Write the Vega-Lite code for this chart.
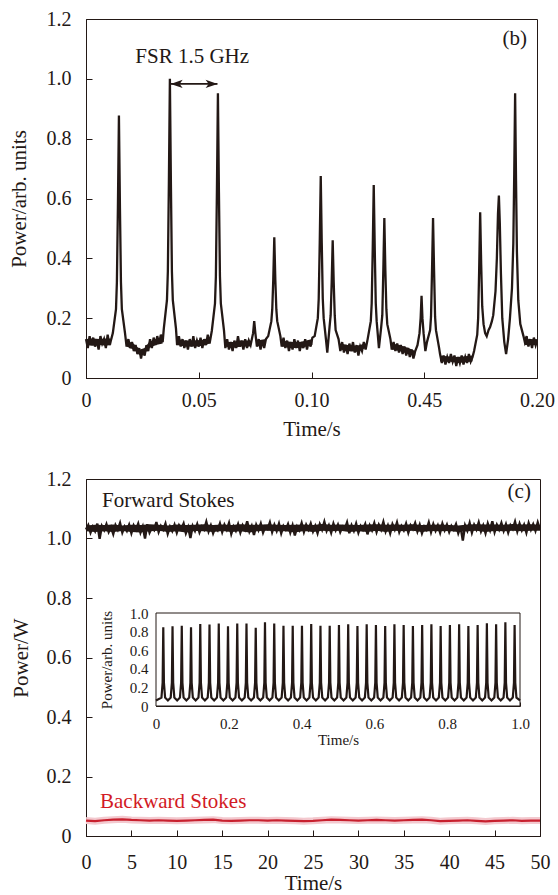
{
  "$schema": "https://vega.github.io/schema/vega-lite/v6.json",
  "padding": {"left": 7, "top": 8, "right": 0, "bottom": 0},
  "spacing": 28,
  "config": {
    "font": "Liberation Serif",
    "view": {"stroke": "#231815", "strokeWidth": 1},
    "axis": {
      "labelFont": "Liberation Serif", "titleFont": "Liberation Serif",
      "labelFontSize": 20, "titleFontSize": 21, "titleFontWeight": "normal",
      "labelColor": "#231815", "titleColor": "#231815",
      "domainColor": "#231815", "tickColor": "#231815",
      "tickSize": -6, "grid": false, "titlePadding": 14, "labelFlush": false, "labelOverlap": false
    },
    "axisX": {"labelPadding": 18},
    "axisY": {"labelPadding": 21},
    "text": {"font": "Liberation Serif", "color": "#231815", "fontSize": 21}
  },
  "vconcat": [
    {
      "width": 451, "height": 359,
      "layer": [
        {
          "data": {"values": [
{"x":0,"y":0.13},{"x":0.0008,"y":0.10},{"x":0.0016,"y":0.14},{"x":0.0024,"y":0.11},{"x":0.0032,"y":0.135},{"x":0.004,"y":0.105},{"x":0.0048,"y":0.125},{"x":0.0056,"y":0.095},{"x":0.0064,"y":0.14},{"x":0.0072,"y":0.115},{"x":0.008,"y":0.13},{"x":0.0088,"y":0.10},{"x":0.0096,"y":0.145},{"x":0.0104,"y":0.11},{"x":0.0112,"y":0.13},
{"x":0.0119,"y":0.15},{"x":0.0133,"y":0.23},{"x":0.0137,"y":0.32},{"x":0.01415,"y":0.57},{"x":0.0146,"y":0.877},{"x":0.01505,"y":0.57},{"x":0.0155,"y":0.32},{"x":0.0159,"y":0.23},{"x":0.0173,"y":0.15},
{"x":0.018,"y":0.105},{"x":0.0188,"y":0.13},{"x":0.0196,"y":0.10},{"x":0.0204,"y":0.12},{"x":0.0212,"y":0.09},{"x":0.022,"y":0.11},{"x":0.0228,"y":0.08},{"x":0.0236,"y":0.10},{"x":0.0244,"y":0.065},{"x":0.0252,"y":0.095},{"x":0.026,"y":0.075},{"x":0.0268,"y":0.11},{"x":0.0276,"y":0.09},{"x":0.0284,"y":0.13},{"x":0.0292,"y":0.10},{"x":0.03,"y":0.135},{"x":0.0308,"y":0.11},{"x":0.0316,"y":0.14},{"x":0.0324,"y":0.115},{"x":0.0332,"y":0.145},{"x":0.034,"y":0.12},
{"x":0.0345,"y":0.165},{"x":0.0359,"y":0.26},{"x":0.0363,"y":0.356},{"x":0.03675,"y":0.65},{"x":0.0372,"y":1.0},{"x":0.03765,"y":0.65},{"x":0.0381,"y":0.356},{"x":0.0385,"y":0.26},{"x":0.0399,"y":0.165},
{"x":0.0404,"y":0.11},{"x":0.0412,"y":0.14},{"x":0.042,"y":0.105},{"x":0.0428,"y":0.13},{"x":0.0436,"y":0.10},{"x":0.0444,"y":0.125},{"x":0.0452,"y":0.095},{"x":0.046,"y":0.13},{"x":0.0468,"y":0.105},{"x":0.0476,"y":0.14},{"x":0.0484,"y":0.10},{"x":0.0492,"y":0.125},{"x":0.05,"y":0.105},{"x":0.0508,"y":0.135},{"x":0.0516,"y":0.10},{"x":0.0524,"y":0.13},{"x":0.0532,"y":0.11},{"x":0.054,"y":0.145},{"x":0.0548,"y":0.115},
{"x":0.0558,"y":0.158},{"x":0.0572,"y":0.249},{"x":0.0576,"y":0.34},{"x":0.05805,"y":0.62},{"x":0.0585,"y":0.952},{"x":0.05895,"y":0.62},{"x":0.0594,"y":0.34},{"x":0.0598,"y":0.249},{"x":0.0612,"y":0.158},
{"x":0.0618,"y":0.10},{"x":0.0626,"y":0.13},{"x":0.0634,"y":0.095},{"x":0.0642,"y":0.12},{"x":0.065,"y":0.09},{"x":0.0658,"y":0.125},{"x":0.0666,"y":0.10},{"x":0.0674,"y":0.14},{"x":0.0682,"y":0.105},{"x":0.069,"y":0.125},{"x":0.0698,"y":0.095},{"x":0.0706,"y":0.13},{"x":0.0714,"y":0.10},{"x":0.0722,"y":0.125},{"x":0.073,"y":0.11},
{"x":0.0741,"y":0.15},{"x":0.0746,"y":0.19},{"x":0.0751,"y":0.15},
{"x":0.0758,"y":0.105},{"x":0.0766,"y":0.13},{"x":0.0774,"y":0.095},{"x":0.0782,"y":0.125},{"x":0.079,"y":0.10},{"x":0.0798,"y":0.13},
{"x":0.0808,"y":0.14},{"x":0.0822,"y":0.19},{"x":0.0826,"y":0.23},{"x":0.08305,"y":0.33},{"x":0.0835,"y":0.47},{"x":0.08395,"y":0.33},{"x":0.0844,"y":0.23},{"x":0.0848,"y":0.19},{"x":0.0862,"y":0.14},
{"x":0.0868,"y":0.105},{"x":0.0876,"y":0.135},{"x":0.0884,"y":0.10},{"x":0.0892,"y":0.125},{"x":0.09,"y":0.09},{"x":0.0908,"y":0.12},{"x":0.0916,"y":0.095},{"x":0.0924,"y":0.13},{"x":0.0932,"y":0.10},{"x":0.094,"y":0.125},{"x":0.0948,"y":0.09},{"x":0.0956,"y":0.12},{"x":0.0964,"y":0.10},{"x":0.0972,"y":0.13},{"x":0.098,"y":0.095},{"x":0.0988,"y":0.125},{"x":0.0996,"y":0.105},{"x":0.1004,"y":0.135},
{"x":0.1014,"y":0.14},{"x":0.1028,"y":0.20},{"x":0.1032,"y":0.265},{"x":0.10365,"y":0.45},{"x":0.1041,"y":0.675},{"x":0.10455,"y":0.45},{"x":0.105,"y":0.265},{"x":0.1054,"y":0.20},{"x":0.1064,"y":0.13},{"x":0.107,"y":0.085},
{"x":0.108,"y":0.17},{"x":0.1085,"y":0.21},{"x":0.10895,"y":0.32},{"x":0.1094,"y":0.46},{"x":0.10985,"y":0.32},{"x":0.1103,"y":0.21},{"x":0.1107,"y":0.16},{"x":0.112,"y":0.13},
{"x":0.1128,"y":0.09},{"x":0.1136,"y":0.12},{"x":0.1144,"y":0.085},{"x":0.1152,"y":0.11},{"x":0.116,"y":0.08},{"x":0.1168,"y":0.115},{"x":0.1176,"y":0.09},{"x":0.1184,"y":0.12},{"x":0.1192,"y":0.085},{"x":0.12,"y":0.11},{"x":0.1208,"y":0.075},{"x":0.1216,"y":0.105},{"x":0.1224,"y":0.09},{"x":0.1232,"y":0.12},{"x":0.124,"y":0.095},
{"x":0.1249,"y":0.13},{"x":0.1263,"y":0.19},{"x":0.1267,"y":0.25},{"x":0.12715,"y":0.43},{"x":0.1276,"y":0.645},{"x":0.12805,"y":0.43},{"x":0.1285,"y":0.25},{"x":0.1289,"y":0.19},{"x":0.1299,"y":0.10},
{"x":0.1309,"y":0.17},{"x":0.1314,"y":0.21},{"x":0.13185,"y":0.36},{"x":0.1323,"y":0.535},{"x":0.13275,"y":0.36},{"x":0.1332,"y":0.23},{"x":0.1336,"y":0.18},{"x":0.135,"y":0.13},
{"x":0.1356,"y":0.095},{"x":0.1364,"y":0.12},{"x":0.1372,"y":0.09},{"x":0.138,"y":0.115},{"x":0.1388,"y":0.085},{"x":0.1396,"y":0.11},{"x":0.1404,"y":0.08},{"x":0.1412,"y":0.105},{"x":0.142,"y":0.075},{"x":0.1428,"y":0.10},{"x":0.1436,"y":0.07},{"x":0.1444,"y":0.095},{"x":0.1452,"y":0.065},{"x":0.146,"y":0.09},
{"x":0.147,"y":0.11},{"x":0.1479,"y":0.15},{"x":0.1484,"y":0.20},{"x":0.1488,"y":0.275},{"x":0.1492,"y":0.20},{"x":0.1497,"y":0.15},{"x":0.1505,"y":0.09},
{"x":0.1512,"y":0.12},{"x":0.1526,"y":0.16},{"x":0.153,"y":0.205},{"x":0.15345,"y":0.36},{"x":0.1539,"y":0.535},{"x":0.15435,"y":0.36},{"x":0.1548,"y":0.205},{"x":0.1552,"y":0.16},{"x":0.1566,"y":0.10},
{"x":0.157,"y":0.08},{"x":0.1578,"y":0.05},{"x":0.1586,"y":0.075},{"x":0.1594,"y":0.045},{"x":0.1602,"y":0.07},{"x":0.161,"y":0.05},{"x":0.1618,"y":0.08},{"x":0.1626,"y":0.055},{"x":0.1634,"y":0.075},{"x":0.1642,"y":0.04},{"x":0.165,"y":0.07},{"x":0.1658,"y":0.05},{"x":0.1666,"y":0.075},{"x":0.1674,"y":0.045},{"x":0.1682,"y":0.07},{"x":0.169,"y":0.05},{"x":0.1698,"y":0.08},{"x":0.1706,"y":0.055},{"x":0.1714,"y":0.07},
{"x":0.1721,"y":0.09},{"x":0.1735,"y":0.145},{"x":0.1739,"y":0.20},{"x":0.17435,"y":0.36},{"x":0.1748,"y":0.554},{"x":0.17525,"y":0.38},{"x":0.1757,"y":0.24},{"x":0.1763,"y":0.18},{"x":0.177,"y":0.15},{"x":0.1777,"y":0.14},{"x":0.1785,"y":0.16},{"x":0.1792,"y":0.17},{"x":0.18,"y":0.19},{"x":0.1806,"y":0.21},{"x":0.1816,"y":0.29},{"x":0.1822,"y":0.40},{"x":0.1827,"y":0.55},{"x":0.1831,"y":0.61},{"x":0.1835,"y":0.52},{"x":0.184,"y":0.35},{"x":0.1846,"y":0.20},{"x":0.1855,"y":0.12},{"x":0.1863,"y":0.08},{"x":0.1872,"y":0.13},{"x":0.188,"y":0.20},{"x":0.1889,"y":0.30},{"x":0.1895,"y":0.45},{"x":0.1899,"y":0.68},{"x":0.1903,"y":0.952},{"x":0.1907,"y":0.66},{"x":0.1911,"y":0.42},{"x":0.1917,"y":0.26},{"x":0.1926,"y":0.18},{"x":0.194,"y":0.14},
{"x":0.1946,"y":0.12},{"x":0.1954,"y":0.14},{"x":0.1962,"y":0.105},{"x":0.197,"y":0.13},{"x":0.1978,"y":0.10},{"x":0.1986,"y":0.135},{"x":0.1994,"y":0.11},{"x":0.2,"y":0.125}
          ]},
          "mark": {"type": "line", "color": "#231815", "strokeWidth": 2.3},
          "encoding": {
            "x": {"field": "x", "type": "quantitative", "scale": {"domain": [0, 0.2], "nice": false, "zero": false},
                  "axis": {"values": [0, 0.05, 0.1, 0.15, 0.2], "title": "Time/s", "titlePadding": 8,
                           "labelExpr": "datum.value == 0 ? '0' : (abs(datum.value - 0.15) < 0.001 ? '0.45' : format(datum.value, '.2f'))"}},
            "y": {"field": "y", "type": "quantitative", "scale": {"domain": [0, 1.2], "nice": false},
                  "axis": {"values": [0, 0.2, 0.4, 0.6, 0.8, 1, 1.2], "title": "Power/arb. units", "titlePadding": 17,
                           "labelExpr": "datum.value == 0 ? '0' : format(datum.value, '.1f')"}}
          }
        },
        {
          "data": {"values": [
{"seg":1,"x":0,"lo":0.11,"hi":0.13},{"seg":1,"x":0.003,"lo":0.108,"hi":0.132},{"seg":1,"x":0.006,"lo":0.11,"hi":0.13},{"seg":1,"x":0.009,"lo":0.108,"hi":0.132},{"seg":1,"x":0.0112,"lo":0.112,"hi":0.132},
{"seg":2,"x":0.018,"lo":0.105,"hi":0.125},{"seg":2,"x":0.021,"lo":0.095,"hi":0.115},{"seg":2,"x":0.024,"lo":0.075,"hi":0.095},{"seg":2,"x":0.026,"lo":0.08,"hi":0.10},{"seg":2,"x":0.028,"lo":0.10,"hi":0.12},{"seg":2,"x":0.031,"lo":0.11,"hi":0.13},{"seg":2,"x":0.034,"lo":0.115,"hi":0.135},
{"seg":3,"x":0.0404,"lo":0.11,"hi":0.13},{"seg":3,"x":0.044,"lo":0.105,"hi":0.125},{"seg":3,"x":0.048,"lo":0.105,"hi":0.125},{"seg":3,"x":0.052,"lo":0.108,"hi":0.128},{"seg":3,"x":0.0548,"lo":0.115,"hi":0.135},
{"seg":4,"x":0.0618,"lo":0.105,"hi":0.12},{"seg":4,"x":0.065,"lo":0.10,"hi":0.12},{"seg":4,"x":0.069,"lo":0.105,"hi":0.125},{"seg":4,"x":0.073,"lo":0.105,"hi":0.125},
{"seg":5,"x":0.0758,"lo":0.105,"hi":0.125},{"seg":5,"x":0.0798,"lo":0.11,"hi":0.13},
{"seg":6,"x":0.0868,"lo":0.105,"hi":0.125},{"seg":6,"x":0.091,"lo":0.10,"hi":0.12},{"seg":6,"x":0.095,"lo":0.10,"hi":0.12},{"seg":6,"x":0.1004,"lo":0.11,"hi":0.13},
{"seg":7,"x":0.1128,"lo":0.095,"hi":0.115},{"seg":7,"x":0.116,"lo":0.09,"hi":0.11},{"seg":7,"x":0.12,"lo":0.088,"hi":0.108},{"seg":7,"x":0.124,"lo":0.10,"hi":0.115},
{"seg":8,"x":0.1356,"lo":0.095,"hi":0.115},{"seg":8,"x":0.139,"lo":0.09,"hi":0.11},{"seg":8,"x":0.143,"lo":0.08,"hi":0.10},{"seg":8,"x":0.146,"lo":0.075,"hi":0.09},
{"seg":9,"x":0.157,"lo":0.055,"hi":0.075},{"seg":9,"x":0.161,"lo":0.055,"hi":0.072},{"seg":9,"x":0.165,"lo":0.05,"hi":0.07},{"seg":9,"x":0.1714,"lo":0.055,"hi":0.075},
{"seg":10,"x":0.1946,"lo":0.11,"hi":0.13},{"seg":10,"x":0.2,"lo":0.11,"hi":0.13}
          ]},
          "mark": {"type": "area", "color": "#231815", "opacity": 1},
          "encoding": {
            "x": {"field": "x", "type": "quantitative"},
            "y": {"field": "lo", "type": "quantitative"},
            "y2": {"field": "hi"},
            "detail": {"field": "seg", "type": "nominal"}
          }
        },
        {
          "data": {"values": [{"x": 0.0376, "x2": 0.0583, "y": 0.983}]},
          "mark": {"type": "rule", "color": "#231815", "strokeWidth": 1.6},
          "encoding": {
            "x": {"field": "x", "type": "quantitative"},
            "x2": {"field": "x2"},
            "y": {"field": "y", "type": "quantitative"}
          }
        },
        {
          "data": {"values": [{"x": 0.0402, "y": 0.983}]},
          "mark": {"type": "point", "shape": "M-1,0L1,-0.7L0.5,0L1,0.7Z", "filled": true, "size": 144, "color": "#231815", "opacity": 1},
          "encoding": {"x": {"field": "x", "type": "quantitative"}, "y": {"field": "y", "type": "quantitative"}}
        },
        {
          "data": {"values": [{"x": 0.0557, "y": 0.983}]},
          "mark": {"type": "point", "shape": "M1,0L-1,-0.7L-0.5,0L-1,0.7Z", "filled": true, "size": 144, "color": "#231815", "opacity": 1},
          "encoding": {"x": {"field": "x", "type": "quantitative"}, "y": {"field": "y", "type": "quantitative"}}
        },
        {
          "data": {"values": [{"x": 0.0471, "y": 1.073, "label": "FSR 1.5 GHz"}]},
          "mark": {"type": "text", "align": "center", "baseline": "middle"},
          "encoding": {"x": {"field": "x", "type": "quantitative"}, "y": {"field": "y", "type": "quantitative"}, "text": {"field": "label"}}
        },
        {
          "data": {"values": [{"x": 0.1956, "y": 1.134, "label": "(b)"}]},
          "mark": {"type": "text", "align": "right", "baseline": "middle"},
          "encoding": {"x": {"field": "x", "type": "quantitative"}, "y": {"field": "y", "type": "quantitative"}, "text": {"field": "label"}}
        }
      ]
    },
    {
      "width": 454, "height": 357,
      "layer": [
        {
          "layer": [
            {
              "data": {"values": [
{"x":0,"y":1.030},{"x":0.25,"y":1.045},{"x":0.5,"y":1.020},{"x":0.75,"y":1.040},{"x":1,"y":1.025},{"x":1.25,"y":1.050},{"x":1.5,"y":0.999},{"x":1.75,"y":1.042},{"x":2,"y":1.028},{"x":2.25,"y":1.048},
{"x":2.5,"y":1.022},{"x":2.75,"y":1.038},{"x":3,"y":1.015},{"x":3.25,"y":1.045},{"x":3.5,"y":1.030},{"x":3.75,"y":1.052},{"x":4,"y":1.020},{"x":4.25,"y":1.040},{"x":4.5,"y":1.026},{"x":4.75,"y":1.046},
{"x":5,"y":1.018},{"x":5.25,"y":1.044},{"x":5.5,"y":1.030},{"x":5.75,"y":1.050},{"x":6,"y":1.020},{"x":6.25,"y":1.040},{"x":6.5,"y":1.000},{"x":6.75,"y":1.048},{"x":7,"y":1.020},{"x":7.25,"y":1.036},
{"x":7.5,"y":1.028},{"x":7.75,"y":1.055},{"x":8,"y":1.022},{"x":8.25,"y":1.042},{"x":8.5,"y":1.030},{"x":8.75,"y":1.050},{"x":9,"y":1.016},{"x":9.25,"y":1.040},{"x":9.5,"y":1.025},{"x":9.75,"y":1.046},
{"x":10,"y":1.020},{"x":10.25,"y":1.044},{"x":10.5,"y":1.032},{"x":10.75,"y":1.050},{"x":11,"y":1.018},{"x":11.25,"y":1.038},{"x":11.5,"y":1.002},{"x":11.75,"y":1.042},{"x":12,"y":1.026},{"x":12.25,"y":1.048},
{"x":12.5,"y":1.021},{"x":12.75,"y":1.040},{"x":13,"y":1.030},{"x":13.25,"y":1.056},{"x":13.5,"y":1.024},{"x":13.75,"y":1.044},{"x":14,"y":1.018},{"x":14.25,"y":1.038},{"x":14.5,"y":1.028},{"x":14.75,"y":1.050},
{"x":15,"y":1.022},{"x":15.25,"y":1.046},{"x":15.5,"y":1.030},{"x":15.75,"y":1.052},{"x":16,"y":1.016},{"x":16.25,"y":1.040},{"x":16.5,"y":1.026},{"x":16.75,"y":1.048},{"x":17,"y":1.020},{"x":17.25,"y":1.044},
{"x":17.5,"y":1.030},{"x":17.75,"y":1.058},{"x":18,"y":1.024},{"x":18.25,"y":1.042},{"x":18.5,"y":1.012},{"x":18.75,"y":1.046},{"x":19,"y":1.028},{"x":19.25,"y":1.050},{"x":19.5,"y":1.020},{"x":19.75,"y":1.040},
{"x":20,"y":1.032},{"x":20.25,"y":1.054},{"x":20.5,"y":1.022},{"x":20.75,"y":1.046},{"x":21,"y":1.026},{"x":21.25,"y":1.050},{"x":21.5,"y":1.018},{"x":21.75,"y":1.042},{"x":22,"y":1.030},{"x":22.25,"y":1.048},
{"x":22.5,"y":1.020},{"x":22.75,"y":1.044},{"x":23,"y":1.010},{"x":23.25,"y":1.040},{"x":23.5,"y":1.028},{"x":23.75,"y":1.052},{"x":24,"y":1.022},{"x":24.25,"y":1.046},{"x":24.5,"y":1.030},{"x":24.75,"y":1.050},
{"x":25,"y":1.024},{"x":25.25,"y":1.042},{"x":25.5,"y":1.018},{"x":25.75,"y":1.048},{"x":26,"y":1.030},{"x":26.25,"y":1.056},{"x":26.5,"y":1.026},{"x":26.75,"y":1.044},{"x":27,"y":1.020},{"x":27.25,"y":1.050},
{"x":27.5,"y":1.028},{"x":27.75,"y":1.046},{"x":28,"y":1.022},{"x":28.25,"y":1.040},{"x":28.5,"y":1.032},{"x":28.75,"y":1.054},{"x":29,"y":1.018},{"x":29.25,"y":1.044},{"x":29.5,"y":1.026},{"x":29.75,"y":1.050},
{"x":30,"y":1.020},{"x":30.25,"y":1.042},{"x":30.5,"y":1.030},{"x":30.75,"y":1.048},{"x":31,"y":1.014},{"x":31.25,"y":1.044},{"x":31.5,"y":1.028},{"x":31.75,"y":1.052},{"x":32,"y":1.022},{"x":32.25,"y":1.046},
{"x":32.5,"y":1.030},{"x":32.75,"y":1.056},{"x":33,"y":1.024},{"x":33.25,"y":1.044},{"x":33.5,"y":1.018},{"x":33.75,"y":1.048},{"x":34,"y":1.030},{"x":34.25,"y":1.054},{"x":34.5,"y":1.022},{"x":34.75,"y":1.042},
{"x":35,"y":1.028},{"x":35.25,"y":1.050},{"x":35.5,"y":1.020},{"x":35.75,"y":1.044},{"x":36,"y":1.032},{"x":36.25,"y":1.052},{"x":36.5,"y":1.024},{"x":36.75,"y":1.046},{"x":37,"y":1.018},{"x":37.25,"y":1.040},
{"x":37.5,"y":1.030},{"x":37.75,"y":1.054},{"x":38,"y":1.022},{"x":38.25,"y":1.048},{"x":38.5,"y":1.026},{"x":38.75,"y":1.044},{"x":39,"y":1.020},{"x":39.25,"y":1.050},{"x":39.5,"y":1.028},{"x":39.75,"y":1.046},
{"x":40,"y":1.022},{"x":40.25,"y":1.042},{"x":40.5,"y":1.030},{"x":40.75,"y":1.048},{"x":41,"y":1.018},{"x":41.25,"y":1.040},{"x":41.5,"y":0.993},{"x":41.75,"y":1.044},{"x":42,"y":1.026},{"x":42.25,"y":1.052},
{"x":42.5,"y":1.020},{"x":42.75,"y":1.046},{"x":43,"y":1.030},{"x":43.25,"y":1.054},{"x":43.5,"y":1.024},{"x":43.75,"y":1.044},{"x":44,"y":1.018},{"x":44.25,"y":1.050},{"x":44.5,"y":1.028},{"x":44.75,"y":1.058},
{"x":45,"y":1.022},{"x":45.25,"y":1.046},{"x":45.5,"y":1.030},{"x":45.75,"y":1.052},{"x":46,"y":1.026},{"x":46.25,"y":1.048},{"x":46.5,"y":1.020},{"x":46.75,"y":1.044},{"x":47,"y":1.032},{"x":47.25,"y":1.056},
{"x":47.5,"y":1.024},{"x":47.75,"y":1.050},{"x":48,"y":1.028},{"x":48.25,"y":1.046},{"x":48.5,"y":1.020},{"x":48.75,"y":1.052},{"x":49,"y":1.030},{"x":49.25,"y":1.048},{"x":49.5,"y":1.026},{"x":49.75,"y":1.054},
{"x":50,"y":1.030}
              ]},
              "mark": {"type": "line", "color": "#231815", "strokeWidth": 2.4},
              "encoding": {
                "x": {"field": "x", "type": "quantitative", "scale": {"domain": [0, 50], "nice": false, "zero": false},
                      "axis": {"values": [0, 5, 10, 15, 20, 25, 30, 35, 40, 45, 50], "title": "Time/s", "labelPadding": 22, "titlePadding": 0}},
                "y": {"field": "y", "type": "quantitative", "scale": {"domain": [0, 1.2], "nice": false},
                      "axis": {"values": [0, 0.2, 0.4, 0.6, 0.8, 1, 1.2], "title": "Power/W", "titlePadding": 14.5,
                               "labelExpr": "datum.value == 0 ? '0' : format(datum.value, '.1f')"}}
              }
            },
            {
              "data": {"values": [
{"x":0,"lo":1.024,"hi":1.044},{"x":1,"lo":1.022,"hi":1.046},{"x":2,"lo":1.024,"hi":1.045},{"x":3,"lo":1.022,"hi":1.047},{"x":4,"lo":1.025,"hi":1.044},{"x":5,"lo":1.022,"hi":1.046},{"x":6,"lo":1.020,"hi":1.045},{"x":7,"lo":1.024,"hi":1.048},{"x":8,"lo":1.026,"hi":1.046},{"x":9,"lo":1.022,"hi":1.044},
{"x":10,"lo":1.024,"hi":1.047},{"x":11,"lo":1.020,"hi":1.045},{"x":12,"lo":1.025,"hi":1.046},{"x":13,"lo":1.024,"hi":1.048},{"x":14,"lo":1.022,"hi":1.045},{"x":15,"lo":1.025,"hi":1.047},{"x":16,"lo":1.022,"hi":1.045},{"x":17,"lo":1.024,"hi":1.048},{"x":18,"lo":1.020,"hi":1.046},{"x":19,"lo":1.025,"hi":1.046},
{"x":20,"lo":1.026,"hi":1.048},{"x":21,"lo":1.024,"hi":1.046},{"x":22,"lo":1.024,"hi":1.045},{"x":23,"lo":1.020,"hi":1.046},{"x":24,"lo":1.025,"hi":1.047},{"x":25,"lo":1.022,"hi":1.045},{"x":26,"lo":1.026,"hi":1.049},{"x":27,"lo":1.024,"hi":1.046},{"x":28,"lo":1.026,"hi":1.047},{"x":29,"lo":1.022,"hi":1.046},
{"x":30,"lo":1.024,"hi":1.045},{"x":31,"lo":1.022,"hi":1.047},{"x":32,"lo":1.026,"hi":1.048},{"x":33,"lo":1.022,"hi":1.046},{"x":34,"lo":1.026,"hi":1.047},{"x":35,"lo":1.024,"hi":1.046},{"x":36,"lo":1.026,"hi":1.048},{"x":37,"lo":1.022,"hi":1.045},{"x":38,"lo":1.025,"hi":1.046},{"x":39,"lo":1.024,"hi":1.047},
{"x":40,"lo":1.025,"hi":1.045},{"x":41,"lo":1.022,"hi":1.044},{"x":42,"lo":1.024,"hi":1.047},{"x":43,"lo":1.026,"hi":1.048},{"x":44,"lo":1.022,"hi":1.047},{"x":45,"lo":1.025,"hi":1.047},{"x":46,"lo":1.024,"hi":1.046},{"x":47,"lo":1.026,"hi":1.049},{"x":48,"lo":1.024,"hi":1.047},{"x":49,"lo":1.026,"hi":1.048},{"x":50,"lo":1.026,"hi":1.046}
              ]},
              "mark": {"type": "area", "color": "#231815", "opacity": 1},
              "encoding": {"x": {"field": "x", "type": "quantitative"}, "y": {"field": "lo", "type": "quantitative"}, "y2": {"field": "hi"}}
            },
            {
              "data": {"name": "back", "values": [
{"x":0,"y":0.052},{"x":1,"y":0.050},{"x":2,"y":0.053},{"x":3,"y":0.055},{"x":4,"y":0.056},{"x":5,"y":0.054},{"x":6,"y":0.053},{"x":7,"y":0.052},{"x":8,"y":0.053},{"x":9,"y":0.052},
{"x":10,"y":0.051},{"x":11,"y":0.052},{"x":12,"y":0.053},{"x":13,"y":0.054},{"x":14,"y":0.055},{"x":15,"y":0.052},{"x":16,"y":0.051},{"x":17,"y":0.052},{"x":18,"y":0.053},{"x":19,"y":0.053},
{"x":20,"y":0.052},{"x":21,"y":0.053},{"x":22,"y":0.052},{"x":23,"y":0.051},{"x":24,"y":0.050},{"x":25,"y":0.051},{"x":26,"y":0.053},{"x":27,"y":0.055},{"x":28,"y":0.054},{"x":29,"y":0.053},
{"x":30,"y":0.052},{"x":31,"y":0.053},{"x":32,"y":0.054},{"x":33,"y":0.053},{"x":34,"y":0.052},{"x":35,"y":0.053},{"x":36,"y":0.054},{"x":37,"y":0.055},{"x":38,"y":0.053},{"x":39,"y":0.050},
{"x":40,"y":0.051},{"x":41,"y":0.052},{"x":42,"y":0.053},{"x":43,"y":0.051},{"x":44,"y":0.049},{"x":45,"y":0.051},{"x":46,"y":0.052},{"x":47,"y":0.053},{"x":48,"y":0.051},{"x":49,"y":0.052},{"x":50,"y":0.052}
              ]},
              "mark": {"type": "line", "color": "#f3c9cf", "strokeWidth": 7},
              "encoding": {"x": {"field": "x", "type": "quantitative"}, "y": {"field": "y", "type": "quantitative"}}
            },
            {
              "data": {"name": "back"},
              "mark": {"type": "line", "color": "#c8202e", "strokeWidth": 2.2},
              "encoding": {"x": {"field": "x", "type": "quantitative"}, "y": {"field": "y", "type": "quantitative"}}
            },
            {
              "data": {"values": [{"x": 1.76, "y": 1.126, "label": "Forward Stokes"}]},
              "mark": {"type": "text", "align": "left", "baseline": "middle"},
              "encoding": {"x": {"field": "x", "type": "quantitative"}, "y": {"field": "y", "type": "quantitative"}, "text": {"field": "label"}}
            },
            {
              "data": {"values": [{"x": 49.0, "y": 1.156, "label": "(c)"}]},
              "mark": {"type": "text", "align": "right", "baseline": "middle"},
              "encoding": {"x": {"field": "x", "type": "quantitative"}, "y": {"field": "y", "type": "quantitative"}, "text": {"field": "label"}}
            },
            {
              "data": {"values": [{"x": 1.54, "y": 0.113, "label": "Backward Stokes"}]},
              "mark": {"type": "text", "align": "left", "baseline": "middle", "color": "#d21a24"},
              "encoding": {"x": {"field": "x", "type": "quantitative"}, "y": {"field": "y", "type": "quantitative"}, "text": {"field": "label"}}
            }
          ]
        },
        {
          "layer": [
            {
              "data": {"values": [{"t": 0, "t2": 1, "p": 0, "p2": 1}]},
              "mark": {"type": "rect", "fill": "white", "stroke": "#231815", "strokeWidth": 1},
              "encoding": {
                "x": {"field": "t", "type": "quantitative", "scale": {"domain": [0, 1], "range": [70, 434], "nice": false, "zero": false},
                      "axis": {"orient": "bottom", "offset": -130, "values": [0, 0.2, 0.4, 0.6, 0.8, 1], "title": "Time/s",
                               "labelFontSize": 15, "titleFontSize": 15, "tickSize": -4, "labelPadding": 14, "titlePadding": 1,
                               "labelExpr": "datum.value == 0 ? '0' : format(datum.value, '.1f')"}},
                "x2": {"field": "t2"},
                "y": {"field": "p", "type": "quantitative", "scale": {"domain": [0, 1], "range": [227, 134], "nice": false},
                      "axis": {"orient": "left", "offset": -70, "values": [0, 0.2, 0.4, 0.6, 0.8, 1], "title": "Power/arb. units",
                               "labelFontSize": 15, "titleFontSize": 15, "tickSize": -4, "labelPadding": 12, "titlePadding": 15,
                               "labelExpr": "datum.value == 0 ? '0' : format(datum.value, '.1f')"}},
                "y2": {"field": "p2"}
              }
            },
            {
              "data": {"values": [
{"t":0,"p":0.06},{"t":0.015,"p":0.09},{"t":0.0182,"p":0.25},{"t":0.02,"p":0.846},{"t":0.0218,"p":0.25},{"t":0.025,"p":0.09},
{"t":0.0327,"p":0.06},{"t":0.0404,"p":0.09},{"t":0.0436,"p":0.25},{"t":0.0454,"p":0.857},{"t":0.0472,"p":0.25},{"t":0.0504,"p":0.09},
{"t":0.0581,"p":0.06},{"t":0.0658,"p":0.09},{"t":0.069,"p":0.25},{"t":0.0708,"p":0.864},{"t":0.0726,"p":0.25},{"t":0.0758,"p":0.09},
{"t":0.0835,"p":0.06},{"t":0.0912,"p":0.09},{"t":0.0944,"p":0.25},{"t":0.0962,"p":0.846},{"t":0.098,"p":0.25},{"t":0.1012,"p":0.09},
{"t":0.1089,"p":0.06},{"t":0.1166,"p":0.09},{"t":0.1198,"p":0.25},{"t":0.1216,"p":0.882},{"t":0.1234,"p":0.25},{"t":0.1266,"p":0.09},
{"t":0.1343,"p":0.06},{"t":0.142,"p":0.09},{"t":0.1452,"p":0.25},{"t":0.147,"p":0.875},{"t":0.1488,"p":0.25},{"t":0.152,"p":0.09},
{"t":0.1597,"p":0.06},{"t":0.1674,"p":0.09},{"t":0.1706,"p":0.25},{"t":0.1724,"p":0.886},{"t":0.1742,"p":0.25},{"t":0.1774,"p":0.09},
{"t":0.1851,"p":0.06},{"t":0.1928,"p":0.09},{"t":0.196,"p":0.25},{"t":0.1978,"p":0.857},{"t":0.1996,"p":0.25},{"t":0.2028,"p":0.09},
{"t":0.2105,"p":0.06},{"t":0.2182,"p":0.09},{"t":0.2214,"p":0.25},{"t":0.2232,"p":0.886},{"t":0.225,"p":0.25},{"t":0.2282,"p":0.09},
{"t":0.2359,"p":0.06},{"t":0.2436,"p":0.09},{"t":0.2468,"p":0.25},{"t":0.2486,"p":0.886},{"t":0.2504,"p":0.25},{"t":0.2536,"p":0.09},
{"t":0.2613,"p":0.06},{"t":0.269,"p":0.09},{"t":0.2722,"p":0.25},{"t":0.274,"p":0.842},{"t":0.2758,"p":0.25},{"t":0.279,"p":0.09},
{"t":0.2867,"p":0.06},{"t":0.2944,"p":0.09},{"t":0.2976,"p":0.25},{"t":0.2994,"p":0.9},{"t":0.3012,"p":0.25},{"t":0.3044,"p":0.09},
{"t":0.3121,"p":0.06},{"t":0.3198,"p":0.09},{"t":0.323,"p":0.25},{"t":0.3248,"p":0.886},{"t":0.3266,"p":0.25},{"t":0.3298,"p":0.09},
{"t":0.3375,"p":0.06},{"t":0.3452,"p":0.09},{"t":0.3484,"p":0.25},{"t":0.3502,"p":0.864},{"t":0.352,"p":0.25},{"t":0.3552,"p":0.09},
{"t":0.3629,"p":0.06},{"t":0.3706,"p":0.09},{"t":0.3738,"p":0.25},{"t":0.3756,"p":0.864},{"t":0.3774,"p":0.25},{"t":0.3806,"p":0.09},
{"t":0.3883,"p":0.06},{"t":0.396,"p":0.09},{"t":0.3992,"p":0.25},{"t":0.401,"p":0.864},{"t":0.4028,"p":0.25},{"t":0.406,"p":0.09},
{"t":0.4137,"p":0.06},{"t":0.4214,"p":0.09},{"t":0.4246,"p":0.25},{"t":0.4264,"p":0.882},{"t":0.4282,"p":0.25},{"t":0.4314,"p":0.09},
{"t":0.4391,"p":0.06},{"t":0.4468,"p":0.09},{"t":0.45,"p":0.25},{"t":0.4518,"p":0.864},{"t":0.4536,"p":0.25},{"t":0.4568,"p":0.09},
{"t":0.4645,"p":0.06},{"t":0.4722,"p":0.09},{"t":0.4754,"p":0.25},{"t":0.4772,"p":0.864},{"t":0.479,"p":0.25},{"t":0.4822,"p":0.09},
{"t":0.4899,"p":0.06},{"t":0.4976,"p":0.09},{"t":0.5008,"p":0.25},{"t":0.5026,"p":0.87},{"t":0.5044,"p":0.25},{"t":0.5076,"p":0.09},
{"t":0.5153,"p":0.06},{"t":0.523,"p":0.09},{"t":0.5262,"p":0.25},{"t":0.528,"p":0.88},{"t":0.5298,"p":0.25},{"t":0.533,"p":0.09},
{"t":0.5407,"p":0.06},{"t":0.5484,"p":0.09},{"t":0.5516,"p":0.25},{"t":0.5534,"p":0.86},{"t":0.5552,"p":0.25},{"t":0.5584,"p":0.09},
{"t":0.5661,"p":0.06},{"t":0.5738,"p":0.09},{"t":0.577,"p":0.25},{"t":0.5788,"p":0.88},{"t":0.5806,"p":0.25},{"t":0.5838,"p":0.09},
{"t":0.5915,"p":0.06},{"t":0.5992,"p":0.09},{"t":0.6024,"p":0.25},{"t":0.6042,"p":0.87},{"t":0.606,"p":0.25},{"t":0.6092,"p":0.09},
{"t":0.6169,"p":0.06},{"t":0.6246,"p":0.09},{"t":0.6278,"p":0.25},{"t":0.6296,"p":0.86},{"t":0.6314,"p":0.25},{"t":0.6346,"p":0.09},
{"t":0.6423,"p":0.06},{"t":0.65,"p":0.09},{"t":0.6532,"p":0.25},{"t":0.655,"p":0.88},{"t":0.6568,"p":0.25},{"t":0.66,"p":0.09},
{"t":0.6677,"p":0.06},{"t":0.6754,"p":0.09},{"t":0.6786,"p":0.25},{"t":0.6804,"p":0.87},{"t":0.6822,"p":0.25},{"t":0.6854,"p":0.09},
{"t":0.6931,"p":0.06},{"t":0.7008,"p":0.09},{"t":0.704,"p":0.25},{"t":0.7058,"p":0.86},{"t":0.7076,"p":0.25},{"t":0.7108,"p":0.09},
{"t":0.7185,"p":0.06},{"t":0.7262,"p":0.09},{"t":0.7294,"p":0.25},{"t":0.7312,"p":0.87},{"t":0.733,"p":0.25},{"t":0.7362,"p":0.09},
{"t":0.7439,"p":0.06},{"t":0.7516,"p":0.09},{"t":0.7548,"p":0.25},{"t":0.7566,"p":0.88},{"t":0.7584,"p":0.25},{"t":0.7616,"p":0.09},
{"t":0.7693,"p":0.06},{"t":0.777,"p":0.09},{"t":0.7802,"p":0.25},{"t":0.782,"p":0.86},{"t":0.7838,"p":0.25},{"t":0.787,"p":0.09},
{"t":0.7947,"p":0.06},{"t":0.8024,"p":0.09},{"t":0.8056,"p":0.25},{"t":0.8074,"p":0.87},{"t":0.8092,"p":0.25},{"t":0.8124,"p":0.09},
{"t":0.8201,"p":0.06},{"t":0.8278,"p":0.09},{"t":0.831,"p":0.25},{"t":0.8328,"p":0.88},{"t":0.8346,"p":0.25},{"t":0.8378,"p":0.09},
{"t":0.8455,"p":0.06},{"t":0.8532,"p":0.09},{"t":0.8564,"p":0.25},{"t":0.8582,"p":0.86},{"t":0.86,"p":0.25},{"t":0.8632,"p":0.09},
{"t":0.8709,"p":0.06},{"t":0.8786,"p":0.09},{"t":0.8818,"p":0.25},{"t":0.8836,"p":0.87},{"t":0.8854,"p":0.25},{"t":0.8886,"p":0.09},
{"t":0.8963,"p":0.06},{"t":0.904,"p":0.09},{"t":0.9072,"p":0.25},{"t":0.909,"p":0.89},{"t":0.9108,"p":0.25},{"t":0.914,"p":0.09},
{"t":0.9217,"p":0.06},{"t":0.9294,"p":0.09},{"t":0.9326,"p":0.25},{"t":0.9344,"p":0.88},{"t":0.9362,"p":0.25},{"t":0.9394,"p":0.09},
{"t":0.9471,"p":0.06},{"t":0.9548,"p":0.09},{"t":0.958,"p":0.25},{"t":0.9598,"p":0.9},{"t":0.9616,"p":0.25},{"t":0.9648,"p":0.09},
{"t":0.9725,"p":0.06},{"t":0.9802,"p":0.09},{"t":0.9834,"p":0.25},{"t":0.9852,"p":0.87},{"t":0.987,"p":0.25},{"t":0.9902,"p":0.09},
{"t":1,"p":0.06}
              ]},
              "mark": {"type": "line", "color": "#231815", "strokeWidth": 2.2},
              "encoding": {
                "x": {"field": "t", "type": "quantitative"},
                "y": {"field": "p", "type": "quantitative"}
              }
            }
          ]
        }
      ],
      "resolve": {"scale": {"x": "independent", "y": "independent"}}
    }
  ]
}
